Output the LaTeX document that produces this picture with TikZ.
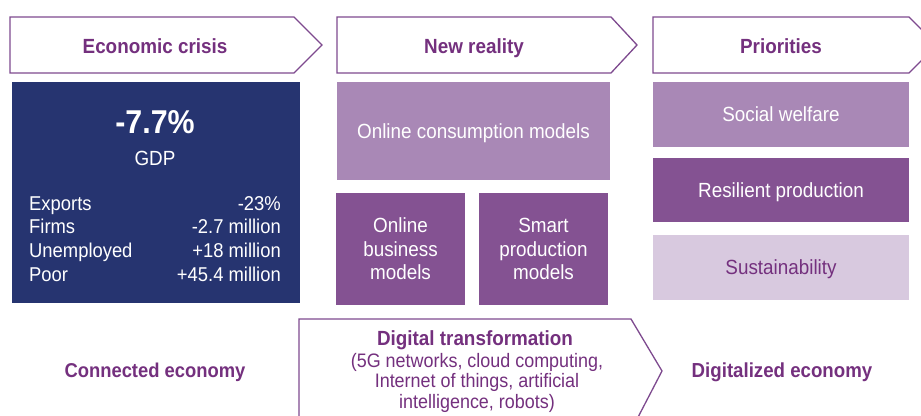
\documentclass[tikz,border=0pt]{standalone}
\usepackage{fontspec}
\setmainfont{Liberation Sans}[FakeStretch=0.92]
\definecolor{navy}{HTML}{263470}
\definecolor{lightp}{HTML}{A988B6}
\definecolor{darkp}{HTML}{845292}
\definecolor{paleP}{HTML}{D8C9DF}
\definecolor{ptext}{HTML}{74307E}
\definecolor{pline}{HTML}{7E4A8F}
\tikzset{
  hdr/.style={draw=pline, line width=1.3pt, fill=white, line join=miter},
  hdrtext/.style={text=ptext, font=\fontsize{20.5}{24}\selectfont\bfseries, inner sep=0pt, anchor=base},
  box/.style={inner sep=0pt, outer sep=0pt, text=white, align=center, font=\fontsize{20.5}{23.5}\selectfont},
  oneline/.style={text height=14.7pt, text depth=0pt},
  listtext/.style={text=white, inner sep=0pt, font=\fontsize{20}{23}\selectfont},
  bodytext/.style={text=ptext, inner sep=0pt, anchor=base, font=\fontsize{19.5}{21}\selectfont}
}
\begin{document}
\begin{tikzpicture}[x=1pt,y=-1pt]
\useasboundingbox (0,0) rectangle (921,415);
\clip (0,0) rectangle (921,415);
% header chevrons
\draw[hdr] (10,17) -- (294,17) -- (322,45) -- (294,73) -- (10,73) -- cycle;
\draw[hdr] (337,17) -- (611,17) -- (637,45) -- (611,73) -- (337,73) -- cycle;
\draw[hdr] (653,17) -- (909,17) -- (937,45) -- (909,73) -- (653,73) -- cycle;
\node[hdrtext] (h1) at (155,53) {Economic crisis};
\node[hdrtext] (h2) at (474,53) {New reality};
\node[hdrtext] (h3) at (781,53) {Priorities};
% economic crisis box
\node[box, fill=navy, minimum width=288pt, minimum height=221pt] (crisis) at (156,192.5) {};
\node[text=white, inner sep=0pt, anchor=base, font=\fontsize{33}{36}\selectfont\bfseries] (gdpv) at (155,133) {-7.7\%};
\node[text=white, inner sep=0pt, anchor=base, font=\fontsize{20.5}{24}\selectfont] (gdp) at (155,165) {GDP};
\node[listtext, anchor=base west] (l1) at (29,210) {Exports};
\node[listtext, anchor=base west] (l2) at (29,233.5) {Firms};
\node[listtext, anchor=base west] (l3) at (29,257) {Unemployed};
\node[listtext, anchor=base west] (l4) at (29,281) {Poor};
\node[listtext, anchor=base east] (r1) at (281,210) {-23\%};
\node[listtext, anchor=base east] (r2) at (281,233.5) {-2.7 million};
\node[listtext, anchor=base east] (r3) at (281,257) {+18 million};
\node[listtext, anchor=base east] (r4) at (281,281) {+45.4 million};
% new reality boxes
\node[box, oneline, fill=lightp, minimum width=273pt, minimum height=98pt] (ocm) at (473.5,131) {Online consumption models};
\node[box, fill=darkp, minimum width=129pt, minimum height=112pt] (obm) at (400.5,249) {Online\\business\\models};
\node[box, fill=darkp, minimum width=129pt, minimum height=112pt] (spm) at (543.5,249) {Smart\\production\\models};
% priorities boxes
\node[box, oneline, fill=lightp, minimum width=256pt, minimum height=65pt] (sw) at (781,114.5) {Social welfare};
\node[box, oneline, fill=darkp, minimum width=256pt, minimum height=64pt] (rp) at (781,190) {Resilient production};
\node[box, oneline, fill=paleP, text=ptext, minimum width=256pt, minimum height=65pt] (sus) at (781,267.5) {Sustainability};
% bottom chevron
\draw[hdr] (299,319) -- (631,319) -- (662,371) -- (635,423) -- (299,423) -- cycle;
\node[hdrtext] (dt) at (475,345) {Digital transformation};
\node[bodytext] (dtb1) at (477,367) {(5G networks, cloud computing,};
\node[bodytext] (dtb2) at (477,387.5) {Internet of things, artificial};
\node[bodytext] (dtb3) at (477,408) {intelligence, robots)};
\node[hdrtext, font=\fontsize{20}{24}\selectfont\bfseries] (ce) at (155,377) {Connected economy};
\node[hdrtext, font=\fontsize{20.3}{24}\selectfont\bfseries] (de) at (782,377) {Digitalized economy};
\end{tikzpicture}
\end{document}
